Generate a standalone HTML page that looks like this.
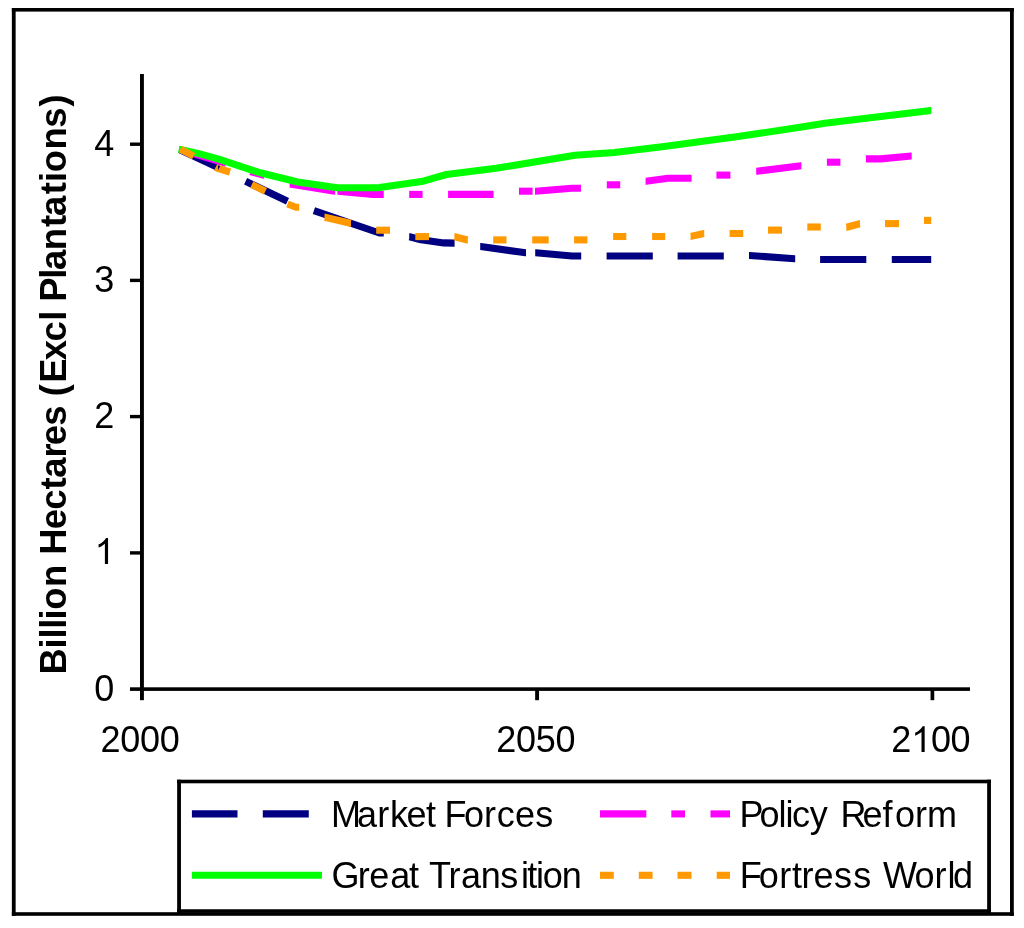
<!DOCTYPE html>
<html lang="en">
<head>
<meta charset="utf-8">
<title>Forest area by scenario</title>
<style>
html,body{margin:0;padding:0;background:#fff;}
body{width:1024px;height:928px;position:relative;overflow:hidden;font-family:"Liberation Sans",sans-serif;}
</style>
</head>
<body>
<svg width="1024" height="928" viewBox="0 0 1024 928" style="display:block;position:absolute;left:0;top:0;will-change:transform">
<rect x="0" y="0" width="1024" height="928" fill="#ffffff"/>
<rect x="11.85" y="8.00" width="3.8" height="907.80" fill="#000"/>
<rect x="1010.00" y="8.00" width="3.8" height="907.80" fill="#000"/>
<rect x="11.85" y="8.00" width="1001.95" height="3.6" fill="#000"/>
<rect x="11.85" y="912.20" width="1001.95" height="3.6" fill="#000"/>
<rect x="140.00" y="74.00" width="3.9" height="626.20" fill="#000"/>
<rect x="130.00" y="687.30" width="840.00" height="3.6" fill="#000"/>
<rect x="130.00" y="142.50" width="11.00" height="3.4" fill="#000"/>
<rect x="130.00" y="278.70" width="11.00" height="3.4" fill="#000"/>
<rect x="130.00" y="414.90" width="11.00" height="3.4" fill="#000"/>
<rect x="130.00" y="551.20" width="11.00" height="3.4" fill="#000"/>
<rect x="535.15" y="689.10" width="3.9" height="11.10" fill="#000"/>
<rect x="930.55" y="689.10" width="3.7" height="11.10" fill="#000"/>
<polyline points="179.50,149.60 217.50,167.40" fill="none" stroke="#000080" stroke-width="7.1" stroke-linejoin="round" stroke-linecap="butt"/>
<polyline points="245.60,181.25 287.50,201.25" fill="none" stroke="#000080" stroke-width="7.1" stroke-linejoin="round" stroke-linecap="butt"/>
<polyline points="313.90,210.60 379.40,233.00 383.75,233.00" fill="none" stroke="#000080" stroke-width="7.1" stroke-linejoin="round" stroke-linecap="butt"/>
<polyline points="409.20,236.80 409.60,236.80 421.00,239.80 443.75,242.90 454.20,243.10 454.60,243.10" fill="none" stroke="#000080" stroke-width="7.1" stroke-linejoin="round" stroke-linecap="butt"/>
<polyline points="480.20,246.50 480.60,246.50 525.60,252.80 526.00,252.80" fill="none" stroke="#000080" stroke-width="7.1" stroke-linejoin="round" stroke-linecap="butt"/>
<polyline points="535.20,252.70 535.60,252.70 572.00,256.00 581.20,256.00" fill="none" stroke="#000080" stroke-width="7.1" stroke-linejoin="round" stroke-linecap="butt"/>
<polyline points="606.60,256.00 652.80,256.00" fill="none" stroke="#000080" stroke-width="7.1" stroke-linejoin="round" stroke-linecap="butt"/>
<polyline points="677.60,256.00 723.80,256.00" fill="none" stroke="#000080" stroke-width="7.1" stroke-linejoin="round" stroke-linecap="butt"/>
<polyline points="749.00,255.50 749.40,255.50 794.80,258.80 795.20,258.80" fill="none" stroke="#000080" stroke-width="7.1" stroke-linejoin="round" stroke-linecap="butt"/>
<polyline points="820.10,259.50 866.30,259.50" fill="none" stroke="#000080" stroke-width="7.1" stroke-linejoin="round" stroke-linecap="butt"/>
<polyline points="891.80,259.50 931.20,259.50" fill="none" stroke="#000080" stroke-width="7.1" stroke-linejoin="round" stroke-linecap="butt"/>
<polyline points="179.50,149.60 179.90,149.60 225.20,163.00 225.60,163.00" fill="none" stroke="#ff00ff" stroke-width="7.1" stroke-linejoin="round" stroke-linecap="butt"/>
<polyline points="250.00,171.60 250.40,171.60 263.50,175.10 263.90,175.10" fill="none" stroke="#ff00ff" stroke-width="7.1" stroke-linejoin="round" stroke-linecap="butt"/>
<polyline points="289.60,184.00 290.00,184.00 334.80,191.20 335.20,191.20" fill="none" stroke="#ff00ff" stroke-width="7.1" stroke-linejoin="round" stroke-linecap="butt"/>
<polyline points="337.40,191.30 337.80,191.30 373.00,194.40 383.75,194.40" fill="none" stroke="#ff00ff" stroke-width="7.1" stroke-linejoin="round" stroke-linecap="butt"/>
<polyline points="409.20,194.40 422.60,194.40" fill="none" stroke="#ff00ff" stroke-width="7.1" stroke-linejoin="round" stroke-linecap="butt"/>
<polyline points="448.10,194.40 493.60,194.40" fill="none" stroke="#ff00ff" stroke-width="7.1" stroke-linejoin="round" stroke-linecap="butt"/>
<polyline points="519.00,191.20 532.60,191.20" fill="none" stroke="#ff00ff" stroke-width="7.1" stroke-linejoin="round" stroke-linecap="butt"/>
<polyline points="535.00,191.20 535.40,191.20 572.00,188.20 581.00,188.20" fill="none" stroke="#ff00ff" stroke-width="7.1" stroke-linejoin="round" stroke-linecap="butt"/>
<polyline points="606.80,184.80 620.20,184.80" fill="none" stroke="#ff00ff" stroke-width="7.1" stroke-linejoin="round" stroke-linecap="butt"/>
<polyline points="645.60,181.20 646.00,181.20 668.00,178.20 691.60,178.20" fill="none" stroke="#ff00ff" stroke-width="7.1" stroke-linejoin="round" stroke-linecap="butt"/>
<polyline points="716.40,175.10 730.40,175.10" fill="none" stroke="#ff00ff" stroke-width="7.1" stroke-linejoin="round" stroke-linecap="butt"/>
<polyline points="756.20,171.30 756.60,171.30 801.00,165.70 801.40,165.70" fill="none" stroke="#ff00ff" stroke-width="7.1" stroke-linejoin="round" stroke-linecap="butt"/>
<polyline points="826.90,162.20 840.40,162.20" fill="none" stroke="#ff00ff" stroke-width="7.1" stroke-linejoin="round" stroke-linecap="butt"/>
<polyline points="865.90,158.90 880.60,158.90 911.30,156.00 911.70,156.00" fill="none" stroke="#ff00ff" stroke-width="7.1" stroke-linejoin="round" stroke-linecap="butt"/>
<polyline points="178.80,149.20 200.00,153.90 218.60,159.10 258.20,172.20 297.80,182.00 337.20,187.75 379.50,187.60 421.50,181.60 446.50,174.50 496.00,168.30 575.00,155.20 614.40,152.50 664.00,146.40 740.00,136.25 800.00,127.30 825.00,123.30 864.00,118.40 930.90,110.40 931.30,110.40" fill="none" stroke="#00ff00" stroke-width="7.1" stroke-linejoin="round" stroke-linecap="butt"/>
<polyline points="180.30,149.20 193.65,156.10" fill="none" stroke="#ff9900" stroke-width="7.1" stroke-linejoin="round" stroke-linecap="butt"/>
<polyline points="215.60,167.20 217.80,168.30 230.00,172.00" fill="none" stroke="#ff9900" stroke-width="7.1" stroke-linejoin="round" stroke-linecap="butt"/>
<polyline points="251.80,184.50 265.40,191.25" fill="none" stroke="#ff9900" stroke-width="7.1" stroke-linejoin="round" stroke-linecap="butt"/>
<polyline points="287.50,204.00 296.00,207.20 299.20,207.20" fill="none" stroke="#ff9900" stroke-width="7.1" stroke-linejoin="round" stroke-linecap="butt"/>
<polyline points="324.50,217.30 324.90,217.30 350.60,223.20 351.00,223.20" fill="none" stroke="#ff9900" stroke-width="7.1" stroke-linejoin="round" stroke-linecap="butt"/>
<polyline points="376.20,230.20 390.00,230.20" fill="none" stroke="#ff9900" stroke-width="7.1" stroke-linejoin="round" stroke-linecap="butt"/>
<polyline points="415.30,236.60 429.00,236.60" fill="none" stroke="#ff9900" stroke-width="7.1" stroke-linejoin="round" stroke-linecap="butt"/>
<polyline points="454.40,236.80 454.80,236.80 467.40,240.00 467.80,240.00" fill="none" stroke="#ff9900" stroke-width="7.1" stroke-linejoin="round" stroke-linecap="butt"/>
<polyline points="493.20,239.90 506.50,239.90" fill="none" stroke="#ff9900" stroke-width="7.1" stroke-linejoin="round" stroke-linecap="butt"/>
<polyline points="532.20,239.90 548.70,239.90" fill="none" stroke="#ff9900" stroke-width="7.1" stroke-linejoin="round" stroke-linecap="butt"/>
<polyline points="574.10,239.90 587.40,239.90" fill="none" stroke="#ff9900" stroke-width="7.1" stroke-linejoin="round" stroke-linecap="butt"/>
<polyline points="613.10,236.50 626.30,236.50" fill="none" stroke="#ff9900" stroke-width="7.1" stroke-linejoin="round" stroke-linecap="butt"/>
<polyline points="652.10,236.50 665.20,236.50" fill="none" stroke="#ff9900" stroke-width="7.1" stroke-linejoin="round" stroke-linecap="butt"/>
<polyline points="690.60,236.40 691.00,236.40 703.80,233.50 704.20,233.50" fill="none" stroke="#ff9900" stroke-width="7.1" stroke-linejoin="round" stroke-linecap="butt"/>
<polyline points="729.60,233.50 743.20,233.50" fill="none" stroke="#ff9900" stroke-width="7.1" stroke-linejoin="round" stroke-linecap="butt"/>
<polyline points="768.00,230.10 782.00,230.10" fill="none" stroke="#ff9900" stroke-width="7.1" stroke-linejoin="round" stroke-linecap="butt"/>
<polyline points="807.30,227.00 820.80,227.00" fill="none" stroke="#ff9900" stroke-width="7.1" stroke-linejoin="round" stroke-linecap="butt"/>
<polyline points="846.30,227.20 846.70,227.20 859.60,223.75 860.00,223.75" fill="none" stroke="#ff9900" stroke-width="7.1" stroke-linejoin="round" stroke-linecap="butt"/>
<polyline points="885.00,223.60 899.00,223.60" fill="none" stroke="#ff9900" stroke-width="7.1" stroke-linejoin="round" stroke-linecap="butt"/>
<polyline points="924.00,220.40 931.20,220.40" fill="none" stroke="#ff9900" stroke-width="7.1" stroke-linejoin="round" stroke-linecap="butt"/>
<polygon points="217.9,165.2 220.2,165.9 218.2,170.2" fill="#000080"/>
<rect x="179" y="781.5" width="810" height="129.5" fill="#fff"/>
<rect x="177.15" y="779.70" width="3.8" height="133.15" fill="#000"/>
<rect x="987.15" y="779.70" width="3.8" height="133.15" fill="#000"/>
<rect x="177.15" y="779.70" width="813.80" height="3.6" fill="#000"/>
<rect x="177.15" y="909.25" width="813.80" height="3.6" fill="#000"/>
<g stroke-width="7.1" fill="none">
<line x1="191.9" y1="813.9" x2="237.5" y2="813.9" stroke="#000080"/>
<line x1="262.8" y1="813.9" x2="308.8" y2="813.9" stroke="#000080"/>
<line x1="191.9" y1="875.3" x2="322" y2="875.3" stroke="#00ff00"/>
<line x1="600" y1="813.9" x2="646.3" y2="813.9" stroke="#ff00ff"/>
<line x1="671.3" y1="813.9" x2="685" y2="813.9" stroke="#ff00ff"/>
<line x1="710.5" y1="813.9" x2="730" y2="813.9" stroke="#ff00ff"/>
<line x1="600" y1="875.3" x2="613.8" y2="875.3" stroke="#ff9900"/>
<line x1="638.8" y1="875.3" x2="652.6" y2="875.3" stroke="#ff9900"/>
<line x1="677.5" y1="875.3" x2="691.5" y2="875.3" stroke="#ff9900"/>
<line x1="716.7" y1="875.3" x2="730" y2="875.3" stroke="#ff9900"/>
</g>
<g font-family="Liberation Sans, sans-serif" font-size="36.0" fill="#000">
<text x="114.4" y="155.7" text-anchor="end">4</text>
<text x="114.4" y="291.9" text-anchor="end">3</text>
<text x="114.4" y="428.1" text-anchor="end">2</text>
<text x="114.4" y="700.6" text-anchor="end">0</text>
<path d="M763 0 L583 0 L583 1147 Q518 1085 412 1023 Q307 961 223 930 L223 1104 Q374 1175 487 1276 Q600 1377 647 1472 L763 1472 Z" transform="translate(94.64,563.90) scale(0.017578,-0.017578)" fill="#000"/>
<text x="140.0" y="752.1" text-anchor="middle" letter-spacing="-0.3">2000</text>
<text x="535.8" y="752.1" text-anchor="middle" letter-spacing="-0.3">2050</text>
<text x="891.2 0 931.0 950.4" y="752.1">2 00</text>
<path d="M763 0 L583 0 L583 1147 Q518 1085 412 1023 Q307 961 223 930 L223 1104 Q374 1175 487 1276 Q600 1377 647 1472 L763 1472 Z" transform="translate(911.25,752.10) scale(0.017578,-0.017578)" fill="#000"/>
<text x="331.11 357.07 377.36 389.96 406.47 425.98 441.98 444.62 464.04 484.03 496.63 514.90 535.22" y="827.0">Market Forces</text>
<text x="331.51 357.68 369.27 390.22 409.11 425.11 428.96 448.51 460.97 480.76 500.25 520.96 527.36 536.01 542.84 561.81" y="888.3">Great Transition</text>
<text x="739.42 759.44 778.54 785.58 792.01 809.82 825.82 840.51 862.57 882.62 895.04 915.03 926.92" y="827.0">Policy Reform</text>
<text x="739.70 758.81 779.23 792.11 801.61 813.52 834.02 853.20 869.20 882.89 914.54 934.53 947.57 953.09" y="888.3">Fortress World</text>
</g>
<text font-family="Liberation Sans, sans-serif" font-weight="bold" font-size="36.4" fill="#000" transform="translate(66.1,0) rotate(-90)" x="-674.43 -648.46 -638.49 -628.79 -619.39 -609.67 -586.94 -570.94 -554.78 -529.26 -509.75 -489.41 -477.82 -457.56 -445.21 -425.64 -409.64 -396.30 -382.70 -360.36 -341.55 -320.76 -304.76 -301.83 -278.64 -270.12 -250.34 -226.91 -215.97 -194.16 -182.04 -172.22 -149.44 -127.77 -106.47" y="0">Billion Hectares (Excl Plantations)</text>
</svg>
</body>
</html>
